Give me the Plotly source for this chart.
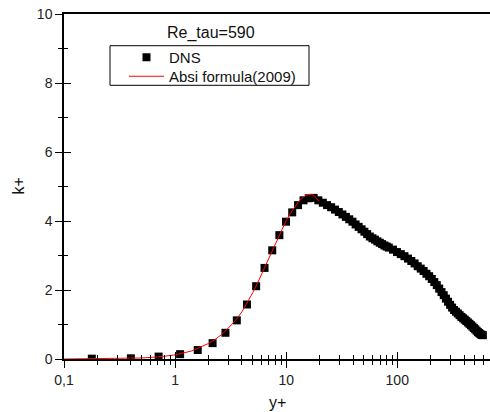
import plotly.graph_objects as go

# DNS data (Re_tau = 590)
dns_yplus = [0.178, 0.400, 0.711, 1.110, 1.599, 2.176, 2.841, 3.595, 4.437, 5.368,
             6.386, 7.492, 8.686, 9.968, 11.34, 12.79, 14.34, 15.97, 17.68, 19.48,
             21.38, 23.35, 25.41, 27.55, 29.78, 32.09, 34.49, 36.97, 39.53, 42.18,
             44.91, 47.73, 50.61, 53.59, 56.65, 59.78, 63.00, 66.29, 69.67, 73.12,
             76.65, 80.26, 83.94, 91.54, 99.43, 107.6, 116.1, 124.9, 133.9, 143.2,
             152.8, 162.7, 172.8, 183.2, 193.8, 204.6, 215.7, 227.0, 238.5, 250.3,
             262.2, 274.4, 286.7, 299.2, 311.9, 324.7, 337.7, 350.9, 364.2, 377.7,
             391.2, 404.9, 418.7, 432.6, 446.6, 460.7, 474.9, 489.1, 503.4, 517.8,
             532.2, 546.6, 561.0, 575.5, 590.0]
dns_k = [0.01, 0.02, 0.07, 0.14, 0.26, 0.46, 0.76, 1.12, 1.58, 2.11,
         2.64, 3.15, 3.59, 3.98, 4.25, 4.46, 4.60, 4.66, 4.67, 4.60,
         4.53, 4.46, 4.40, 4.33, 4.26, 4.19, 4.12, 4.05, 3.98, 3.90,
         3.83, 3.76, 3.69, 3.62, 3.55, 3.50, 3.46, 3.41, 3.37, 3.33,
         3.29, 3.26, 3.23, 3.17, 3.10, 3.04, 2.98, 2.91, 2.84, 2.77,
         2.69, 2.62, 2.55, 2.47, 2.40, 2.32, 2.23, 2.14, 2.04, 1.94,
         1.85, 1.75, 1.66, 1.57, 1.49, 1.42, 1.37, 1.32, 1.27, 1.22,
         1.18, 1.14, 1.10, 1.06, 1.02, 0.98, 0.94, 0.90, 0.86, 0.82,
         0.78, 0.75, 0.72, 0.70, 0.69]

# Absi formula (2009) curve
absi_yplus = [0.1, 0.2, 0.3, 0.4, 0.5, 0.6, 0.7, 0.8, 1.0, 1.2, 1.4, 1.6, 1.8, 2.0,
              2.3, 2.6, 3.0, 3.5, 4.0, 4.5, 5.0, 5.5, 6.0, 6.5, 7.0, 8.0, 9.0, 10.0,
              11.0, 12.0, 13.0, 14.0, 15.0, 16.0, 17.0, 18.0, 19.0, 19.7]
absi_k = [0.0, 0.005, 0.012, 0.02, 0.03, 0.045, 0.06, 0.08, 0.12, 0.17, 0.23, 0.31,
          0.38, 0.45, 0.57, 0.70, 0.89, 1.12, 1.37, 1.64, 1.92, 2.19, 2.45, 2.70,
          2.93, 3.35, 3.71, 4.01, 4.24, 4.43, 4.57, 4.67, 4.74, 4.77, 4.77, 4.73,
          4.64, 4.57]

x_major = [0.1, 1, 10, 100]
x_major_text = ["0,1", "1", "10", "100"]
x_minor = [0.2, 0.3, 0.4, 0.5, 0.6, 0.7, 0.8, 0.9,
           2, 3, 4, 5, 6, 7, 8, 9,
           20, 30, 40, 50, 60, 70, 80, 90,
           200, 300, 400, 500, 600]
y_major = [0, 2, 4, 6, 8, 10]
y_minor = [1, 3, 5, 7, 9]

title_text = "Re_tau=590"
x_title = "y+"
y_title = "k+"

FONT = "Liberation Sans, Arial, sans-serif"
x_range = [-1, 2.835]
y_range = [0, 10]

L, T, W, H = 64, 14, 426, 345  # plot area in pixels


def px(xp):
    return (xp - L) / W


def py(yp):
    return (T + H - yp) / H


fig = go.Figure()
fig.add_trace(go.Scatter(x=dns_yplus, y=dns_k, mode="markers", name="DNS",
                         legend="legend",
                         marker=dict(symbol="square", size=8, color="black",
                                     line=dict(width=0))))
fig.add_trace(go.Scatter(x=absi_yplus, y=absi_k, mode="lines", name="Absi formula(2009)",
                         legend="legend2",
                         line=dict(color="#ff0000", width=1)))
# invisible trace to activate overlay axes (inside ticks)
fig.add_trace(go.Scatter(x=dns_yplus[:1], y=dns_k[:1], xaxis="x2", yaxis="y2",
                         mode="markers", marker=dict(opacity=0), showlegend=False,
                         hoverinfo="skip"))

axis_common = dict(showgrid=False, zeroline=False, tickcolor="black", tickwidth=1.2)
leg_common = dict(xanchor="left", yanchor="top", bgcolor="rgba(0,0,0,0)",
                  borderwidth=0, font=dict(size=15, color="#111"), itemwidth=35)

fig.update_layout(
    width=490, height=412,
    margin=dict(l=L, r=0, t=T, b=412 - T - H),
    paper_bgcolor="white", plot_bgcolor="white",
    font=dict(family=FONT, size=14, color="#222"),
    xaxis=dict(type="log", range=x_range, tickmode="array", tickvals=x_major,
               ticktext=x_major_text, ticks="outside", ticklen=7, showline=True,
               mirror=True, linecolor="black", linewidth=1.5,
               minor=dict(tickmode="array", tickvals=x_minor, ticks="outside",
                          ticklen=4, tickcolor="black", tickwidth=1.2),
               tickfont=dict(size=14), **axis_common),
    yaxis=dict(range=y_range, tickmode="array", tickvals=y_major, ticks="outside",
               ticklen=7, showline=True, linecolor="black", linewidth=1.5,
               minor=dict(tickmode="array", tickvals=y_minor, ticks="outside",
                          ticklen=4, tickcolor="black", tickwidth=1.2),
               tickfont=dict(size=14), **axis_common),
    xaxis2=dict(type="log", range=x_range, overlaying="x", anchor="y", side="bottom",
                tickmode="array", tickvals=x_major, ticks="inside", ticklen=7,
                showticklabels=False, showline=False,
                minor=dict(tickmode="array", tickvals=x_minor, ticks="inside",
                           ticklen=4, tickcolor="black", tickwidth=1.2),
                **axis_common),
    yaxis2=dict(range=y_range, overlaying="y", anchor="x", side="left",
                tickmode="array", tickvals=y_major, ticks="inside", ticklen=7,
                showticklabels=False, showline=False,
                minor=dict(tickmode="array", tickvals=y_minor, ticks="inside",
                           ticklen=4, tickcolor="black", tickwidth=1.2),
                **axis_common),
    showlegend=True,
    legend=dict(x=px(124), y=py(41), **leg_common),
    legend2=dict(x=px(124), y=py(60), **leg_common),
    shapes=[dict(type="rect", xref="paper", yref="paper",
                 x0=px(110), x1=px(309), y0=py(85.3), y1=py(45.7),
                 line=dict(color="black", width=1), fillcolor="rgba(0,0,0,0)")],
    annotations=[
        dict(text=title_text, xref="paper", yref="paper", x=px(211), y=py(33),
             showarrow=False, font=dict(size=16, color="#111"),
             xanchor="center", yanchor="middle"),
        dict(text=x_title, xref="paper", yref="paper", x=0.5, y=py(402),
             showarrow=False, font=dict(size=16, color="#111"), xanchor="center",
             yanchor="middle"),
        dict(text=y_title, xref="paper", yref="paper", x=px(18), y=0.5,
             showarrow=False, textangle=-90, font=dict(size=16, color="#111"),
             xanchor="center", yanchor="middle"),
    ],
)

fig.write_html("out.html", config={"displayModeBar": False},
               post_script="document.body.style.margin='0';document.body.style.padding='0';")
